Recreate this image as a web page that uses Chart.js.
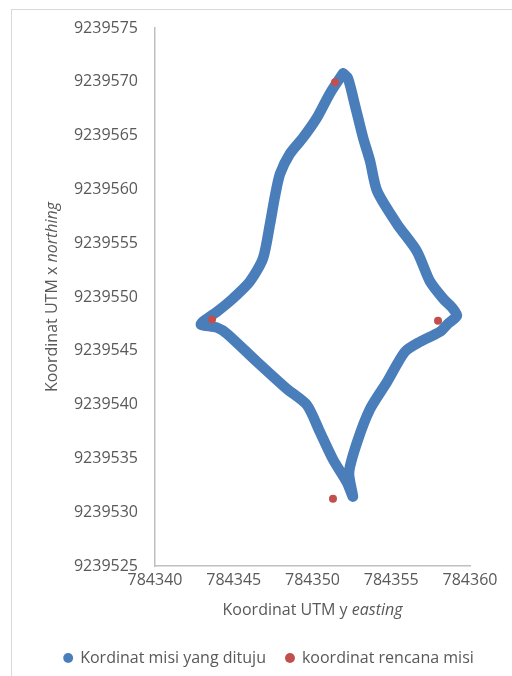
<!DOCTYPE html>
<html>
<head>
<meta charset="utf-8">
<title>Koordinat UTM</title>
<script src="https://cdn.jsdelivr.net/npm/chart.js@4.4.1/dist/chart.umd.min.js"></script>
<style>
  html, body { margin: 0; padding: 0; background: #fff; }
  #frame {
    position: absolute; left: 11px; top: 9px; width: 600px; height: 700px;
    border-left: 1px solid #d9d9d9; border-top: 1px solid #d9d9d9;
  }
  #chart { position: absolute; left: 0; top: 0; }
</style>
</head>
<body>
<div id="frame"></div>
<canvas id="chart" width="512" height="676"></canvas>
<script>
// --- data ---
const seriesNames = ["Kordinat misi yang dituju", "koordinat rencana misi"];

// flown track (easting / northing), one loop starting at the top
const trackEasting = [
  784351.94, 784351.11, 784350.29, 784349.40, 784348.57, 784347.94, 784347.62,
  784347.30, 784346.86, 784346.03, 784344.95, 784343.94, 784343.05, 784342.92,
  784343.94, 784344.57, 784346.48, 784348.38, 784349.65, 784350.48, 784351.30,
  784352.19, 784352.57, 784352.32, 784352.83, 784353.65, 784354.73, 784355.87,
  784356.83, 784358.10, 784358.60, 784359.17, 784358.86, 784358.29, 784357.46,
  784356.63, 784355.37, 784354.10, 784353.65, 784353.21, 784352.70, 784352.25,
  784351.94
];
const trackNorthing = [
  9239570.79, 9239568.93, 9239566.68, 9239564.81, 9239563.32, 9239561.45, 9239559.39,
  9239556.78, 9239553.60, 9239551.45, 9239549.86, 9239548.64, 9239547.71, 9239547.43,
  9239547.15, 9239546.59, 9239543.97, 9239541.45, 9239539.95, 9239537.43, 9239534.91,
  9239532.76, 9239531.45, 9239533.69, 9239536.50, 9239539.58, 9239542.10, 9239544.91,
  9239545.84, 9239546.78, 9239547.52, 9239548.27, 9239549.02, 9239549.86, 9239551.45,
  9239554.25, 9239556.78, 9239559.86, 9239562.66, 9239564.81, 9239567.80, 9239570.33,
  9239570.79
];

// planned mission waypoints
const planEasting = [784351.43, 784343.62, 784357.97, 784351.30];
const planNorthing = [9239569.95, 9239547.90, 9239547.80, 9239531.26];

const eastingTicks = [784340, 784345, 784350, 784355, 784360];
const northingTicks = [9239525, 9239530, 9239535, 9239540, 9239545, 9239550,
  9239555, 9239560, 9239565, 9239570, 9239575];

const xTitle = ["Koordinat UTM y ", "easting"];
const yTitle = ["Koordinat UTM x ", "northing"];

// --- styles ---
const blue = "#4a7ebb";
const red = "#c0504d";
const textColor = "#595959";
const fontFamily = '"Open Sans", sans-serif';

function toPoints(xs, ys) {
  return xs.map((x, i) => ({ x: x, y: ys[i] }));
}

// draws "normal text + italic word" centred at (cx, cy)
function drawMixedTitle(ctx, parts, cx, cy, rot) {
  const fonts = ["16px " + fontFamily, "italic 16px " + fontFamily];
  ctx.save();
  ctx.translate(cx, cy);
  ctx.rotate(rot);
  ctx.fillStyle = textColor;
  ctx.textBaseline = "middle";
  ctx.textAlign = "left";
  const widths = parts.map((p, i) => { ctx.font = fonts[i]; return ctx.measureText(p).width; });
  let x = -widths.reduce((a, b) => a + b, 0) / 2;
  parts.forEach((p, i) => { ctx.font = fonts[i]; ctx.fillText(p, x, 0); x += widths[i]; });
  ctx.restore();
}

const axisTitles = {
  id: "axisTitles",
  afterDraw(chart) {
    const a = chart.chartArea;
    drawMixedTitle(chart.ctx, xTitle, (a.left + a.right) / 2, a.bottom + 44, 0);
    drawMixedTitle(chart.ctx, yTitle, 52, (a.top + a.bottom) / 2, -Math.PI / 2);
  }
};

function setTicks(values) {
  return (scale) => { scale.ticks = values.map((v) => ({ value: v })); };
}

const ctx = document.getElementById("chart").getContext("2d");
new Chart(ctx, {
  type: "scatter",
  data: {
    datasets: [
      {
        label: seriesNames[0],
        data: toPoints(trackEasting, trackNorthing),
        showLine: true,
        borderColor: blue,
        backgroundColor: blue,
        borderWidth: 10.5,
        borderCapStyle: "round",
        borderJoinStyle: "round",
        tension: 0.25,
        pointRadius: 0,
        pointStyle: "circle",
        order: 1
      },
      {
        label: seriesNames[1],
        data: toPoints(planEasting, planNorthing),
        backgroundColor: red,
        borderColor: red,
        borderWidth: 0,
        pointRadius: 4,
        pointStyle: "circle",
        order: 0
      }
    ]
  },
  options: {
    responsive: false,
    animation: false,
    devicePixelRatio: 1,
    layout: { padding: { left: 26, right: 0, top: 28, bottom: 0 } },
    scales: {
      x: {
        type: "linear",
        min: 784340,
        max: 784360,
        afterBuildTicks: setTicks(eastingTicks),
        afterFit: (s) => { s.height = 64; },
        grid: { display: false, drawTicks: false },
        border: { display: true, color: "#bfbfbf", width: 1.5 },
        ticks: {
          padding: 5,
          color: textColor,
          font: { family: fontFamily, size: 16 },
          maxRotation: 0,
          callback: (v) => String(v)
        },
        title: { display: false }
      },
      y: {
        type: "linear",
        min: 9239525,
        max: 9239575,
        afterBuildTicks: setTicks(northingTicks),
        afterFit: (s) => { s.width = 129; },
        grid: { display: false, drawTicks: false },
        border: { display: true, color: "#bfbfbf", width: 1.5 },
        ticks: {
          padding: 17,
          color: textColor,
          font: { family: fontFamily, size: 16 },
          callback: (v) => String(v)
        },
        title: { display: false }
      },
      // empty right-hand margin so the legend can use the full width
      yRight: {
        type: "linear",
        position: "right",
        afterFit: (s) => { s.width = 42; },
        grid: { display: false, drawTicks: false },
        border: { display: false },
        ticks: { display: false }
      }
    },
    plugins: {
      tooltip: { enabled: false },
      legend: {
        position: "bottom",
        labels: {
          usePointStyle: true,
          boxWidth: 8,
          boxHeight: 7,
          padding: 20,
          color: textColor,
          font: { family: fontFamily, size: 16 },
          sort: (a, b) => a.datasetIndex - b.datasetIndex,
          generateLabels(chart) {
            const items = Chart.defaults.plugins.legend.labels.generateLabels(chart);
            items.forEach((it) => { it.lineWidth = 0; it.strokeStyle = it.fillStyle; });
            return items;
          }
        }
      }
    }
  },
  plugins: [axisTitles]
});
</script>
</body>
</html>
